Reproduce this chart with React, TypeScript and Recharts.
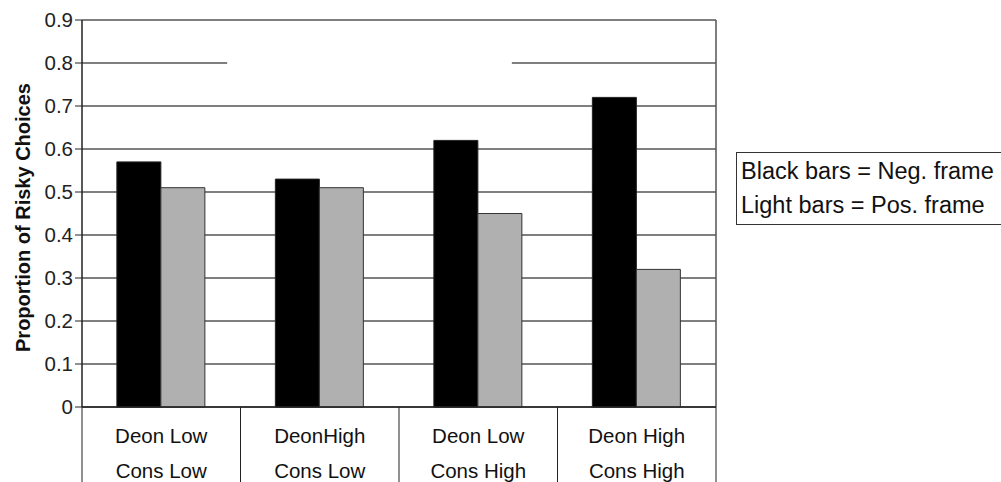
import { BarChart, Bar, XAxis, YAxis, CartesianGrid, ReferenceLine } from 'recharts'

const deonLabels = ['Deon Low', 'DeonHigh', 'Deon Low', 'Deon High']
const consLabels = ['Cons Low', 'Cons Low', 'Cons High', 'Cons High']
const negFrame = [0.57, 0.53, 0.62, 0.72]
const posFrame = [0.51, 0.51, 0.45, 0.32]
const yTicks = [0, 0.1, 0.2, 0.3, 0.4, 0.5, 0.6, 0.7, 0.8, 0.9]

const data = deonLabels.map((d, i) => ({
  key: String(i),
  deon: d,
  cons: consLabels[i],
  neg: negFrame[i],
  pos: posFrame[i],
}))

const font = '"Liberation Sans", Arial, sans-serif'
const BAND = 158.5
const AXIS_H = 75

function CategoryTick(props: any) {
  const { x, y, index } = props
  const row = data[index]
  const left = x - BAND / 2
  const right = x + BAND / 2
  return (
    <g>
      <line x1={left} y1={y} x2={left} y2={y + AXIS_H} stroke="#222" strokeWidth={1} />
      {index === data.length - 1 ? (
        <line x1={right} y1={y} x2={right} y2={y + AXIS_H} stroke="#222" strokeWidth={1} />
      ) : null}
      <text x={x} y={y + 36} textAnchor="middle" fontSize={20.5} fontFamily={font} fill="#111">
        {row.deon}
      </text>
      <text x={x} y={y + 71} textAnchor="middle" fontSize={20.5} fontFamily={font} fill="#111">
        {row.cons}
      </text>
    </g>
  )
}

// the 0.8 gridline is broken in the middle in the original
function GapShape(props: any) {
  const { x1, x2, y1 } = props
  const w = x2 - x1
  return (
    <line x1={x1 + w * 0.229} y1={y1} x2={x1 + w * 0.678} y2={y1} stroke="#fff" strokeWidth={4} />
  )
}

export default function App() {
  return (
    <div style={{ position: 'absolute', left: 0, top: 0, width: 1001, height: 482, background: '#fff', fontFamily: font }}>
      <BarChart
        width={1001}
        height={482}
        data={data}
        margin={{ top: 20, right: 285, bottom: 0, left: 0 }}
        barCategoryGap="22%"
        barGap={0}
      >
        <CartesianGrid
          stroke="#555"
          strokeWidth={1.5}
          verticalCoordinatesGenerator={({ offset }: any) => [offset.left + offset.width]}
        />
        <ReferenceLine y={0.8} shape={GapShape} />
        <XAxis
          dataKey="key"
          height={AXIS_H}
          tickLine={false}
          tickSize={0}
          tickMargin={0}
          interval={0}
          axisLine={{ stroke: '#222', strokeWidth: 1.5 }}
          tick={CategoryTick}
        />
        <YAxis
          width={82}
          domain={[0, 0.9]}
          ticks={yTicks}
          interval={0}
          tickSize={7}
          tickMargin={2}
          tickFormatter={(v: number) => (v === 0 ? '0' : v.toFixed(1))}
          tick={{ fontSize: 20.5, fontFamily: font, fill: '#222' }}
          axisLine={{ stroke: '#222', strokeWidth: 1.5 }}
          tickLine={{ stroke: '#222' }}
          label={{
            value: 'Proportion of Risky Choices',
            angle: -90,
            position: 'center',
            dx: -18,
            dy: 4,
            style: { fontSize: 20, fontWeight: 'bold', fontFamily: font, fill: '#111', textAnchor: 'middle' },
          }}
        />
        <Bar dataKey="neg" fill="#000" stroke="#222" strokeWidth={1} isAnimationActive={false} />
        <Bar dataKey="pos" fill="#b0b0b0" stroke="#333" strokeWidth={1} isAnimationActive={false} />
      </BarChart>
      <div
        style={{
          position: 'absolute',
          left: 736,
          top: 152,
          width: 280,
          height: 73,
          border: '1.5px solid #333',
          boxSizing: 'border-box',
          padding: '1px 0 0 4px',
          fontSize: 23.5,
          lineHeight: '34px',
          color: '#111',
          fontFamily: font,
        }}
      >
        <div>Black bars = Neg. frame</div>
        <div>Light bars = Pos. frame</div>
      </div>
    </div>
  )
}
